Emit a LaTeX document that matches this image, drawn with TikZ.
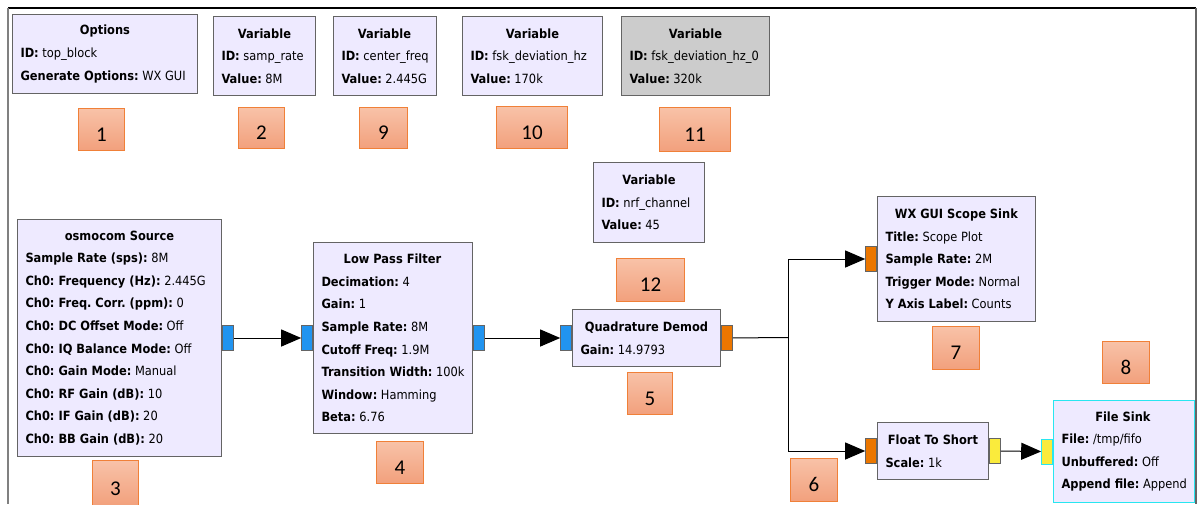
\documentclass[tikz,border=0pt]{standalone}
\usepackage{fontspec}
\setmainfont{DejaVu Sans}[FakeStretch=0.9]
\newfontfamily\numfont{Carlito}
\usetikzlibrary{positioning,arrows.meta}
\frenchspacing

\definecolor{blockfill}{RGB}{238,234,255}
\definecolor{blockline}{RGB}{100,100,100}
\definecolor{varoff}{RGB}{204,204,204}
\definecolor{portblue}{RGB}{33,148,240}
\definecolor{portorange}{RGB}{235,118,0}
\definecolor{portyellow}{RGB}{250,235,60}
\definecolor{sinkcyan}{RGB}{40,230,240}
\definecolor{numtop}{RGB}{248,194,168}
\definecolor{numbot}{RGB}{242,160,124}
\definecolor{numline}{RGB}{240,128,56}

\newcommand{\blktitle}[1]{\makebox[\blkwd][c]{\textbf{#1}}}

\tikzset{
  block/.style 2 args={draw=blockline, fill=blockfill, line width=1pt,
    anchor=north west, inner xsep=8pt, inner ysep=0pt, align=left,
    minimum width=#1pt, minimum height=#2pt,
    /utils/exec={\pgfmathsetlengthmacro\blkwd{#1-16}},
    font=\fontsize{12.7}{22.6}\selectfont},
  port/.style={draw=blockline, line width=0.8pt, fill=#1, inner sep=0pt,
    minimum width=11pt, minimum height=25pt},
  numlabel/.style 2 args={draw=numline, top color=numtop, bottom color=numbot,
    line width=1pt, inner sep=0pt, anchor=north west,
    minimum width=#1pt, minimum height=#2pt, text height=23pt, text depth=0pt,
    font=\numfont\fontsize{21}{21}\selectfont},
  wire/.style={draw=black, line width=1pt},
  conn/.style={wire, -{Triangle[length=20pt,width=17pt]}}
}

\begin{document}
\begin{tikzpicture}[x=1pt, y=-1pt]
\useasboundingbox (0,0) rectangle (1200,504);

% frame of the flow graph canvas
\draw[line width=1.3pt] (8,8) -- (1196,8);
\draw[gray, line width=2pt] (8,8) -- (8,504);
\draw[gray!80!black, line width=2.5pt] (1196,8) -- (1196,504);

% variables
\node[block={185}{79}] (opts) at (12,14)
  {\blktitle{Options}\\ \textbf{ID:} top\_block\\ \textbf{Generate Options:} WX GUI};
\node[block={102}{79}] (samp) at (213,16)
  {\blktitle{Variable}\\ \textbf{ID:} samp\_rate\\ \textbf{Value:} 8M};
\node[block={102}{79}] (cfreq) at (333,16)
  {\blktitle{Variable}\\ \textbf{ID:} center\_freq\\ \textbf{Value:} 2.445G};
\node[block={140}{79}] (fskdev) at (462,16)
  {\blktitle{Variable}\\ \textbf{ID:} fsk\_deviation\_hz\\ \textbf{Value:} 170k};
\node[block={148}{79}, fill=varoff] (fskdevb) at (621,16)
  {\blktitle{Variable}\\ \textbf{ID:} fsk\_deviation\_hz\_0\\ \textbf{Value:} 320k};
\node[block={111}{80}] (nrf) at (593,162)
  {\blktitle{Variable}\\ \textbf{ID:} nrf\_channel\\ \textbf{Value:} 45};

% signal blocks
\node[block={204}{237}] (src) at (17,219)
  {\blktitle{osmocom Source}\\
   \textbf{Sample Rate (sps):} 8M\\
   \textbf{Ch0: Frequency (Hz):} 2.445G\\
   \textbf{Ch0: Freq. Corr. (ppm):} 0\\
   \textbf{Ch0: DC Offset Mode:} Off\\
   \textbf{Ch0: IQ Balance Mode:} Off\\
   \textbf{Ch0: Gain Mode:} Manual\\
   \textbf{Ch0: RF Gain (dB):} 10\\
   \textbf{Ch0: IF Gain (dB):} 20\\
   \textbf{Ch0: BB Gain (dB):} 20};
\node[block={158}{191}] (lpf) at (313,242)
  {\blktitle{Low Pass Filter}\\
   \textbf{Decimation:} 4\\
   \textbf{Gain:} 1\\
   \textbf{Sample Rate:} 8M\\
   \textbf{Cutoff Freq:} 1.9M\\
   \textbf{Transition Width:} 100k\\
   \textbf{Window:} Hamming\\
   \textbf{Beta:} 6.76};
\node[block={148}{57}] (demod) at (572,309)
  {\blktitle{Quadrature Demod}\\ \textbf{Gain:} 14.9793};
\node[block={158}{125}] (scope) at (877,196)
  {\blktitle{WX GUI Scope Sink}\\
   \textbf{Title:} Scope Plot\\
   \textbf{Sample Rate:} 2M\\
   \textbf{Trigger Mode:} Normal\\
   \textbf{Y Axis Label:} Counts};
\node[block={111}{57}] (f2s) at (877,422)
  {\blktitle{Float To Short}\\ \textbf{Scale:} 1k};
\node[block={139}{102}, draw=sinkcyan] (fsink) at (1053,400)
  {\blktitle{File Sink}\\
   \textbf{File:} /tmp/fifo\\
   \textbf{Unbuffered:} Off\\
   \textbf{Append file:} Append};

% ports
\node[port=portblue, anchor=west] (srcout) at (src.east) {};
\node[port=portblue, anchor=east] (lpfin) at (lpf.west) {};
\node[port=portblue, anchor=west] (lpfout) at (lpf.east) {};
\node[port=portblue, anchor=east] (demodin) at (demod.west) {};
\node[port=portorange, anchor=west] (demodout) at (demod.east) {};
\node[port=portorange, anchor=east] (scopein) at (scope.west) {};
\node[port=portorange, anchor=east] (f2sin) at (f2s.west) {};
\node[port=portyellow, anchor=west] (f2sout) at (f2s.east) {};
\node[port=portyellow, anchor=east, draw=sinkcyan] (fsinkin) at (fsink.west) {};

% connections
\coordinate (split) at (788,337.5);
\draw[conn] (srcout) -- (lpfin);
\draw[conn] (lpfout) -- (demodin);
\draw[wire] (demodout) -- (split);
\draw[conn] (split) |- (scopein);
\draw[conn] (split) |- (f2sin);
\draw[conn] (f2sout) -- (fsinkin);

% numbered tags
\node[numlabel={46}{42}] (n1) at (78,108) {1};
\node[numlabel={46}{41}] (n2) at (238,107) {2};
\node[numlabel={48}{41}] (n9) at (359,107) {9};
\node[numlabel={71}{42}] (n10) at (496,106) {10};
\node[numlabel={71}{44}] (n11) at (659,107) {11};
\node[numlabel={68}{43}] (n12) at (616,258) {12};
\node[numlabel={46}{46}] (n3) at (92,460) {3};
\node[numlabel={47}{42}] (n4) at (376,441) {4};
\node[numlabel={45}{42}] (n5) at (627,372) {5};
\node[numlabel={47}{43}] (n6) at (790,458) {6};
\node[numlabel={47}{43}] (n7) at (932,326) {7};
\node[numlabel={47}{42}] (n8) at (1102,341) {8};
\end{tikzpicture}
\end{document}
